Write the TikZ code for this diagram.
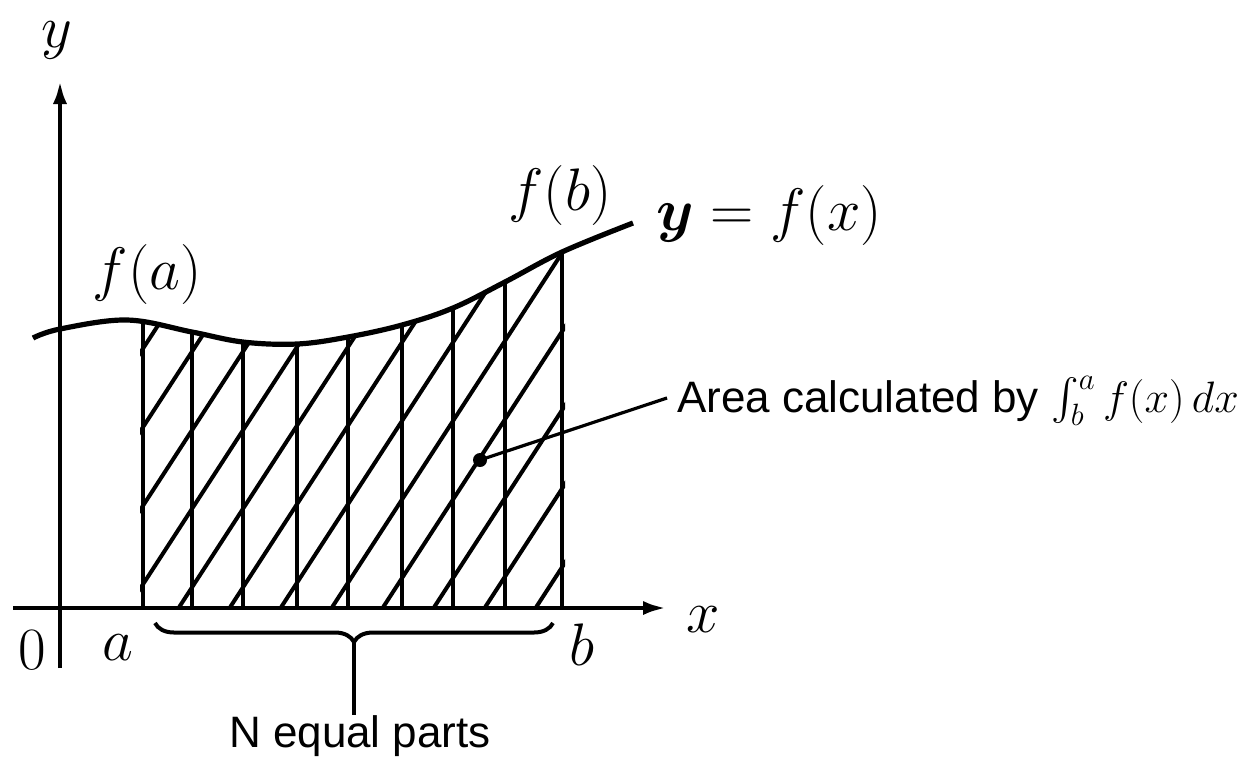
\RequirePackage{fix-cm}
\documentclass[tikz,border=0pt]{standalone}
\usepackage{amsmath}
\usepackage{fontspec}
\newfontfamily\labelsans{Liberation Sans}
\usetikzlibrary{arrows.meta,decorations.pathreplacing}

\begin{document}
\begin{tikzpicture}[x=.5pt,y=-.5pt,
  axis/.style={line width=2.4pt,-{Latex[length=12pt,width=7pt]}},
  curve/.style={line width=2.6pt},
  hatch/.style={line width=2pt},
  strip/.style={line width=2.3pt},
  mathlab/.style={inner sep=0pt,outer sep=0pt,font=\fontsize{30}{36}\selectfont},
  textlab/.style={inner sep=0pt,outer sep=0pt,font=\labelsans\fontsize{22}{26}\selectfont}]
\path[use as bounding box] (0,0) rectangle (1237,762);
\path[fill=white,draw=none] (0,0) rectangle (1237,762);
% axes
\coordinate (xstart) at (13,608);
\coordinate (xend) at (667,608);
\coordinate (ystart) at (60,668);
\coordinate (yend) at (60,80);
\draw[axis] (xstart) -- (xend);
\draw[axis] (ystart) -- (yend);
% hatched area between a and b
\begin{scope}
\clip (140,0) rectangle (565,608);
\clip plot[smooth,tension=.6] coordinates {(33,338) (60,329) (127,320) (192,332) (243,342) (297,344) (348,337) (402,325) (453,308) (505,282) (562,252) (633,223)} -- (633,608) -- (33,608) -- cycle;
\foreach \s in {-130,-79,...,600} \draw[hatch] (\s,612) -- ++(270,-416);
\foreach \sx in {143,192,243,297,348,402,453,505,562} \draw[strip] (\sx,608) -- ++(0,-420);
\end{scope}
% the curve
\draw[curve] plot[smooth,tension=.6] coordinates {(33,338) (60,329) (127,320) (192,332) (243,342) (297,344) (348,337) (402,325) (453,308) (505,282) (562,252) (633,223)};
% labels
\node[mathlab] (ylab) at (57,40) {$y$};
\node[mathlab] (xlab) at (703,620) {$x$};
\node[mathlab] (zero) at (32,650) {$0$};
\node[mathlab] (alab) at (118,648) {$a$};
\node[mathlab] (blab) at (582,645) {$b$};
\node[mathlab] (fa) at (147,274) {$f(a)$};
\node[mathlab] (fb) at (560,195) {$f(b)$};
\node[mathlab] (curvelab) at (769,215) {$\boldsymbol{y}=f(x)$};
% area pointer
\node[circle,fill=black,inner sep=0pt,minimum size=7pt] (dot) at (480,460) {};
\node[textlab,anchor=base west] (arealab) at (677,412) {Area calculated by $\int_b^a f(x)\,dx$};
\coordinate (leadend) at (667,398);
\draw[line width=1.6pt] (dot.center) -- (leadend);
% N parts brace
\coordinate (bleft) at (155,623);
\coordinate (bright) at (553,623);
\draw[line width=2pt,decorate,decoration={brace,mirror,amplitude=9.5pt}] (bleft) -- (bright);
\coordinate (btip) at (354,642);
\coordinate (bstem) at (354,715);
\draw[line width=2pt] (btip) -- (bstem);
\node[textlab,anchor=base] (partslab) at (360,747) {N equal parts};
\end{tikzpicture}
\end{document}
